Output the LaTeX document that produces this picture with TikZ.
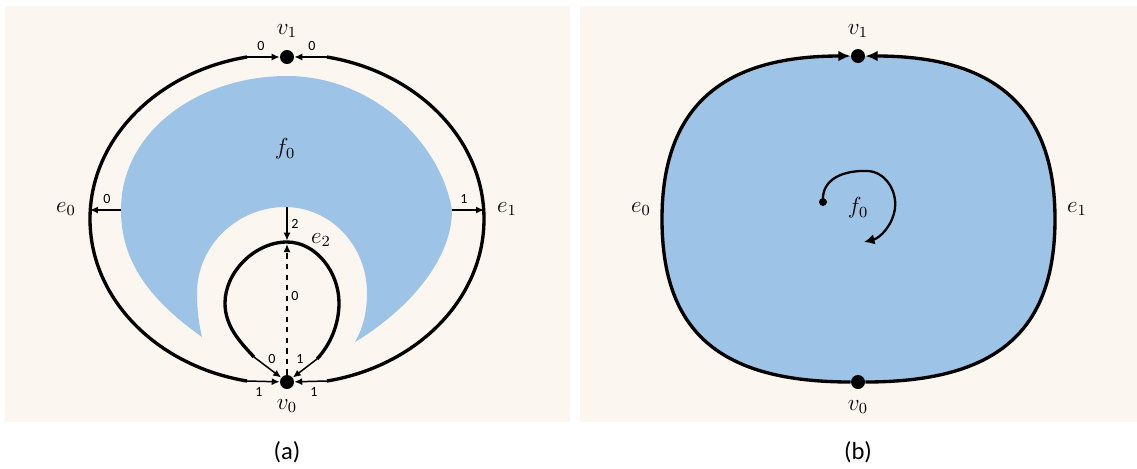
\documentclass[tikz,border=0pt]{standalone}
\usepackage{fontspec}
\newfontfamily\carl{Carlito}
\usetikzlibrary{arrows.meta}
\definecolor{beige}{HTML}{FBF7F0}
\definecolor{fblue}{HTML}{9DC3E6}
\begin{document}
\begin{tikzpicture}[x=0.02cm,y=-0.02cm,
  dot/.style={circle,fill=black,inner sep=0pt,minimum size=0.28cm},
  smalldot/.style={circle,fill=black,inner sep=0pt,minimum size=0.16cm},
  thickedge/.style={line width=1.9pt},
  thinarr/.style={line width=0.85pt,-{Latex[length=4.5pt,width=4pt]}},
  bigarr/.style={line width=1.9pt,-{Latex[length=7pt,width=6pt]}},
  num/.style={font=\carl\fontsize{8}{9}\selectfont,inner sep=0pt},
  mlab/.style={font=\fontsize{12}{14}\selectfont,inner sep=0pt,scale=1.1},
  captext/.style={font=\carl\fontsize{14}{16}\selectfont,inner sep=0pt}]
\useasboundingbox (0,0) rectangle (1137,468);
\fill[beige] (5,6) rectangle (570,422);
\fill[beige] (580,6) rectangle (1137,422);

% ---------------- panel (a) ----------------
\fill[fblue] (202,337) .. controls (150,300) and (121,262) .. (121,210)
  .. controls (121,130) and (200,76) .. (287,76)
  .. controls (370,76) and (440,140) .. (452,210)
  .. controls (452,265) and (400,315) .. (355,342)
  .. controls (364,326) and (367,310) .. (367,293)
  .. controls (367,245) and (330,207) .. (285,207)
  .. controls (238,207) and (197,245) .. (197,293)
  .. controls (197,310) and (199,325) .. (202,337) -- cycle;

\node[dot] (va1) at (287,57) {};
\node[dot] (va0) at (287,382) {};

\coordinate (l1) at (247,57);
\coordinate (r1) at (327,57);
\coordinate (l0) at (247,381);
\coordinate (r0) at (327,381);
\coordinate (le) at (90,210);
\coordinate (re) at (484,210);
\coordinate (bl) at (121,210);
\coordinate (br) at (452,210);

\draw[thickedge] (l1) .. controls (157,72) and (90,139) .. (90,219)
  .. controls (90,299) and (157,366) .. (l0);
\draw[thickedge] (r1) .. controls (417,72) and (484,139) .. (484,219)
  .. controls (484,299) and (417,366) .. (r0);

\draw[thinarr] (l1) -- (va1);
\draw[thinarr] (r1) -- (va1);
\draw[thinarr] (l0) -- (va0);
\draw[thinarr] (r0) -- (va0);
\draw[thinarr] (bl) -- (le);
\draw[thinarr] (br) -- (re);

% inner loop e2
\coordinate (el) at (254,357);
\coordinate (er) at (317,359);
\coordinate (etop) at (287,242);
\coordinate (hole) at (287,207);
\draw[thickedge] (el) .. controls (238,340) and (225,325) .. (225,303)
  .. controls (225,272) and (255,242) .. (etop)
  .. controls (316,242) and (339,272) .. (339,303)
  .. controls (339,325) and (330,345) .. (er);
\draw[thinarr] (el) -- (va0);
\draw[thinarr] (er) -- (va0);
\draw[thinarr,shorten >=0.8pt] (hole) -- (etop);
\draw[thinarr,dashed,shorten >=1.2pt] (va0) -- (etop);

% labels (a)
\node[mlab] at (287,31) {$v_1$};
\node[mlab] at (287,406) {$v_0$};
\node[mlab] at (66,209) {$e_0$};
\node[mlab] at (507,209) {$e_1$};
\node[mlab] at (321,240) {$e_2$};
\node[mlab] at (285,149) {$f_0$};

\node[num] at (261,46) {0};
\node[num] at (312,46) {0};
\node[num] at (107,199) {0};
\node[num] at (464,199) {1};
\node[num] at (295,224) {2};
\node[num] at (295,296) {0};
\node[num] at (272,359) {0};
\node[num] at (300,359) {1};
\node[num] at (259,392) {1};
\node[num] at (314,392) {1};

\node[captext] at (287,452) {(a)};

% ---------------- panel (b) ----------------
\fill[fblue] (858,56) .. controls (730,56) and (662,100) .. (662,219)
  .. controls (662,333) and (721,382) .. (858,382)
  .. controls (995,382) and (1055,333) .. (1055,219)
  .. controls (1055,100) and (986,56) .. (858,56) -- cycle;

\node[dot] (vb1) at (858,56) {};
\node[dot] (vb0) at (858,382) {};

\draw[bigarr] (vb0) .. controls (721,382) and (662,333) .. (662,219)
  .. controls (662,100) and (730,56) .. (vb1);
\draw[bigarr] (vb0) .. controls (995,382) and (1055,333) .. (1055,219)
  .. controls (1055,100) and (986,56) .. (vb1);

\node[smalldot] (cs) at (823,202) {};
\coordinate (ce) at (864,242);
\draw[line width=1.3pt,-{Latex[length=6pt,width=6pt]}] (cs.center) .. controls (821,178) and (845,170) .. (868,171)
  .. controls (885,172) and (897,190) .. (895,208)
  .. controls (893,225) and (880,238) .. (ce);

\node[mlab] at (858,31) {$v_1$};
\node[mlab] at (858,407) {$v_0$};
\node[mlab] at (641,209) {$e_0$};
\node[mlab] at (1077,209) {$e_1$};
\node[mlab] at (858,208) {$f_0$};

\node[captext] at (858,452) {(b)};
\end{tikzpicture}
\end{document}
